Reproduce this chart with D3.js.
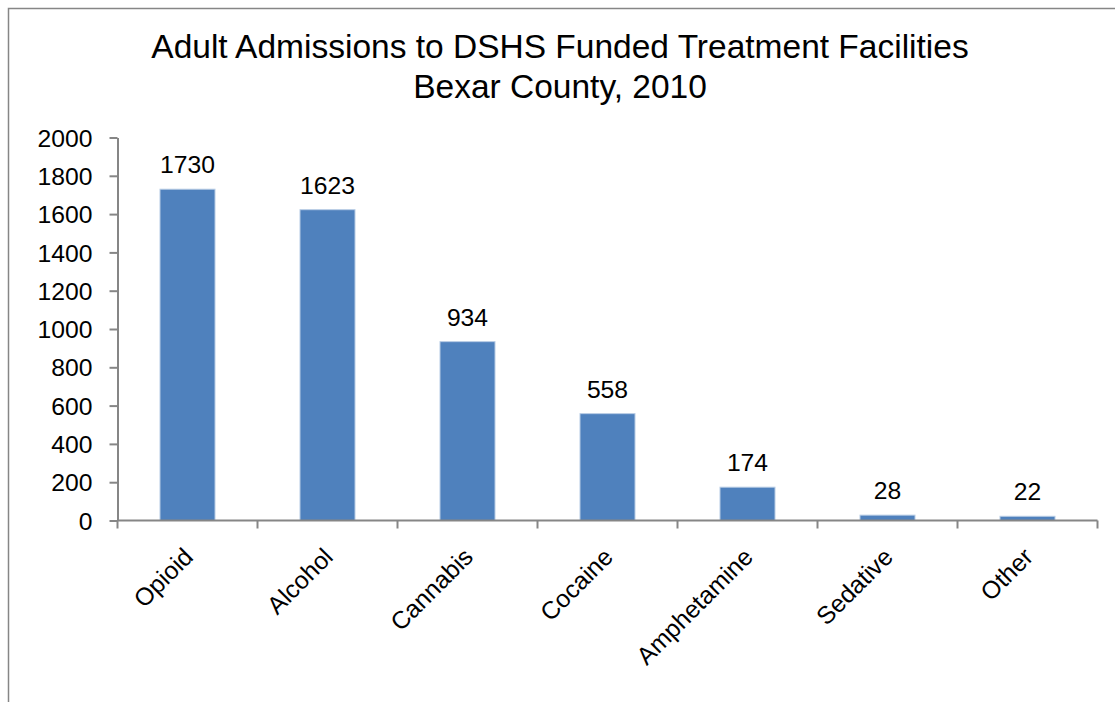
<!DOCTYPE html>
<html><head><meta charset="utf-8">
<script src="https://cdn.jsdelivr.net/npm/d3@7"></script>
<style>body{margin:0;background:#fff}svg{display:block}text{font-family:"Liberation Sans",Arial,sans-serif;fill:#000}</style>
</head><body>
<svg id="c" width="1115" height="702"></svg>
<script>
const categories = ["Opioid","Alcohol","Cannabis","Cocaine","Amphetamine","Sedative","Other"];
const values = [1730,1623,934,558,174,28,22];
const yTicks = [0,200,400,600,800,1000,1200,1400,1600,1800,2000];
const titleLines = ["Adult Admissions to DSHS Funded Treatment Facilities","Bexar County, 2010"];

const svg = d3.select("#c");
svg.append("rect").attr("x",8.5).attr("y",8.5).attr("width",1300).attr("height",900)
  .attr("fill","#fff").attr("stroke","#868686").attr("stroke-width",1.5);

const pLeft = 117.5, pRight = 1097.5, pTop = 137.5, pBottom = 520.5;
const x = d3.scaleBand().domain(categories).range([pLeft,pRight]).paddingInner(0.607).paddingOuter(0.3035);
const y = d3.scaleLinear().domain([0,2000]).range([pBottom,pTop]);

svg.selectAll("text.title").data(titleLines).enter().append("text")
  .attr("x",560).attr("y",(d,i)=>58+i*40).attr("text-anchor","middle")
  .style("font-size","33.5px").text(d=>d);

// y axis
const ya = svg.append("g").attr("transform",`translate(${pLeft},0)`)
  .call(d3.axisLeft(y).tickValues(yTicks).tickFormat(d3.format("d")).tickSize(8).tickPadding(17).tickSizeOuter(0));
ya.select(".domain").attr("stroke","#868686").attr("stroke-width",2);
ya.selectAll(".tick line").attr("stroke","#868686").attr("stroke-width",2);
ya.selectAll(".tick text").style("font-size","24.7px").style("font-family","'Liberation Sans',Arial,sans-serif").attr("fill","#000").attr("dy","0.35em");

// bars
svg.selectAll("rect.bar").data(values).enter().append("rect")
  .attr("x",(d,i)=>x(categories[i])).attr("width",x.bandwidth())
  .attr("y",d=>y(d)).attr("height",d=>pBottom-y(d))
  .attr("fill","#4F81BD").attr("stroke","#B9CDE5").attr("stroke-width",1);

// x axis
const boundaries = d3.range(categories.length+1).map(i=>pLeft+i*(pRight-pLeft)/categories.length);
svg.append("line").attr("x1",pLeft).attr("x2",pRight).attr("y1",pBottom).attr("y2",pBottom)
  .attr("stroke","#868686").attr("stroke-width",2);
svg.selectAll("line.xt").data(boundaries).enter().append("line")
  .attr("x1",d=>d).attr("x2",d=>d).attr("y1",pBottom).attr("y2",pBottom+8)
  .attr("stroke","#868686").attr("stroke-width",2);

// value labels
svg.selectAll("text.val").data(values).enter().append("text")
  .attr("x",(d,i)=>x(categories[i])+x.bandwidth()/2).attr("y",d=>y(d)-16)
  .attr("text-anchor","middle").style("font-size","24.7px").text(d=>d);

// category labels
svg.selectAll("text.cat").data(categories).enter().append("text")
  .attr("transform",d=>`translate(${x(d)+x.bandwidth()/2+7},${pBottom+38}) rotate(-45)`)
  .attr("text-anchor","end").style("font-size","24.7px").text(d=>d);
</script>
</body></html>
